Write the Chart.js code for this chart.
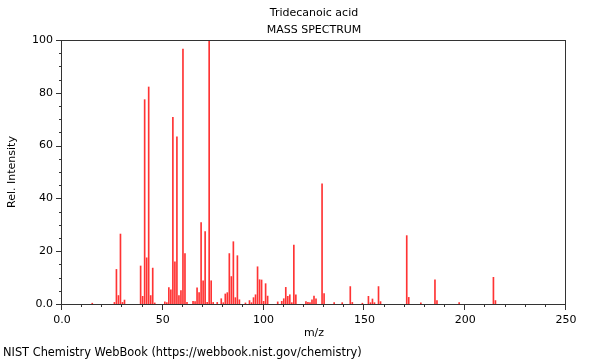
<!DOCTYPE html>
<html lang="en">
<head>
<meta charset="utf-8">
<style>
    html, body { margin: 0; padding: 0; background: #fff; }
    #wrap { width: 600px; height: 360px; }
</style>
</head>
<body>
<div id="wrap"><canvas id="spectrumChart" width="600" height="360"></canvas></div>

<script src="https://cdn.jsdelivr.net/npm/chart.js"></script>
<script>
    // Picos del espectro (m/z e intensidad relativa)
    const mz = [15, 26, 27, 28, 29, 30, 31, 39, 40, 41, 42, 43, 44, 45, 46, 51, 52, 53, 54, 55,
        56, 57, 58, 59, 60, 61, 62, 65, 66, 67, 68, 69, 70, 71, 72, 73, 74, 75, 77, 79,
        80, 81, 82, 83, 84, 85, 86, 87, 88, 91, 93, 94, 95, 96, 97, 98, 99, 100, 101, 102,
        107, 109, 110, 111, 112, 113, 114, 115, 116, 121, 122, 123, 124, 125, 126, 129, 130, 135, 139, 143,
        144, 149, 152, 153, 154, 155, 157, 158, 171, 172, 178, 185, 186, 197, 214, 215];
    const intensity = [0.3, 0.6, 13.1, 3.2, 26.5, 0.6, 1.5, 14.4, 2.9, 77.4, 17.5, 82.2, 3.2, 13.6, 0.4, 0.8, 0.5, 6.2, 5.4, 70.7,
        16.0, 63.3, 3.2, 5.1, 96.6, 19.1, 0.6, 1.0, 0.9, 6.1, 4.3, 30.8, 8.8, 27.4, 0.6, 100, 8.8, 0.6, 0.6, 2.0,
        0.5, 3.8, 4.3, 19.1, 10.4, 23.6, 2.4, 18.3, 1.6, 0.4, 1.3, 0.5, 2.4, 3.5, 14.1, 9.2, 9.1, 1.0, 7.7, 3.0,
        0.8, 1.0, 2.0, 6.3, 2.9, 3.5, 0.5, 22.3, 3.5, 0.9, 0.6, 0.5, 1.6, 3.0, 2.0, 45.5, 3.9, 0.5, 0.5, 6.6,
        0.6, 0.3, 2.9, 0.5, 1.9, 0.5, 6.6, 0.9, 25.9, 2.5, 0.4, 9.2, 1.3, 0.5, 10.1, 1.3];

    const xTicks = [0, 50, 100, 150, 200, 250];
    const yTicks = [0, 20, 40, 60, 80, 100];

    const FONT = 'DejaVu Sans';

    // Marco, marcas menores y textos
    const framePlugin = {
        id: 'frame',
        afterDraw(chart) {
            const ctx = chart.ctx;
            const a = chart.chartArea;
            const xs = chart.scales.x;
            const ys = chart.scales.y;
            ctx.save();
            ctx.strokeStyle = '#333';
            ctx.lineWidth = 1;
            ctx.strokeRect(a.left - 0.5, a.top + 0.5, a.right - a.left, a.bottom - a.top);

            ctx.beginPath();
            for (let v = 0; v <= 250; v += 10) {
                const px = Math.round(xs.getPixelForValue(v)) - 0.5;
                const len = v % 50 === 0 ? 6 : 3;
                ctx.moveTo(px, a.bottom);
                ctx.lineTo(px, a.bottom + len);
            }
            for (let v = 0; v <= 100; v += 5) {
                const py = Math.round(ys.getPixelForValue(v)) + 0.5;
                const len = v % 20 === 0 ? 6 : 3;
                ctx.moveTo(a.left, py);
                ctx.lineTo(a.left - len, py);
            }
            ctx.stroke();

            ctx.fillStyle = '#000';
            ctx.font = '11px ' + FONT;
            ctx.textAlign = 'center';
            ctx.textBaseline = 'middle';
            const cx = (a.left + a.right) / 2;
            ctx.fillText('Tridecanoic acid', cx, 13);
            ctx.fillText('MASS SPECTRUM', cx, 30);
            ctx.fillText('m/z', cx, 333);
            ctx.textAlign = 'left';
            ctx.font = '11.4px ' + FONT;
            ctx.fillText('NIST Chemistry WebBook (https://webbook.nist.gov/chemistry)', 3, 353);
            ctx.font = '11px ' + FONT;
            ctx.translate(12, (a.top + a.bottom) / 2);
            ctx.rotate(-Math.PI / 2);
            ctx.textAlign = 'center';
            ctx.fillText('Rel. Intensity', 0, 0);
            ctx.restore();
        }
    };

    const fmt = v => (v === 0 ? '0.0' : String(v));

    new Chart(document.getElementById('spectrumChart'), {
        type: 'bar',
        data: {
            datasets: [{
                data: mz.map((m, i) => ({ x: m, y: intensity[i] })),
                backgroundColor: '#ff3333',
                barThickness: 1,
                grouped: false
            }]
        },
        options: {
            responsive: false,
            animation: false,
            layout: { padding: { top: 40, right: 34, left: 0, bottom: 0 } },
            plugins: { legend: { display: false }, tooltip: { enabled: false } },
            scales: {
                x: {
                    type: 'linear',
                    min: 0,
                    max: 250,
                    offset: false,
                    afterBuildTicks: s => { s.ticks = xTicks.map(v => ({ value: v })); },
                    afterFit: s => { s.height = 56; },
                    grid: { display: false, drawTicks: false },
                    border: { display: false },
                    ticks: { padding: 10, color: '#000', font: { family: FONT, size: 11 }, maxRotation: 0, callback: fmt }
                },
                y: {
                    min: 0,
                    max: 100,
                    afterBuildTicks: s => { s.ticks = yTicks.map(v => ({ value: v })); },
                    afterFit: s => { s.width = 62; },
                    grid: { display: false, drawTicks: false },
                    border: { display: false },
                    ticks: { padding: 9, color: '#000', font: { family: FONT, size: 11 }, callback: fmt }
                }
            }
        },
        plugins: [framePlugin]
    });
</script>
</body>
</html>
